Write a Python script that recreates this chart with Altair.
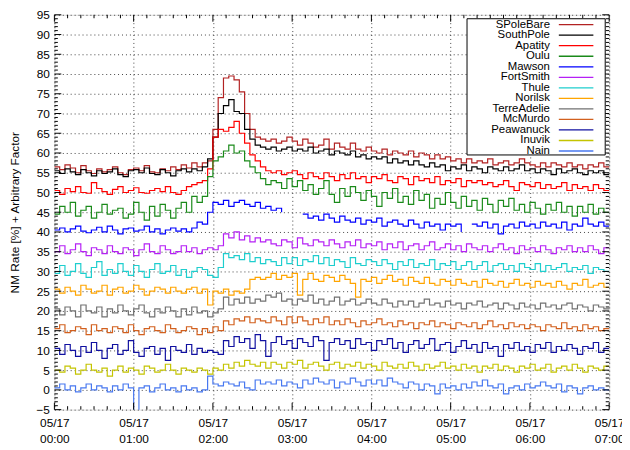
import altair as alt
import pandas as pd

STEP_MIN = 4  # minutes per sample, starting 05/17 00:00

stations = ["SPoleBare", "SouthPole", "Apatity", "Oulu", "Mawson", "FortSmith", "Thule",
            "Norilsk", "TerreAdelie", "McMurdo", "Peawanuck", "Inuvik", "Nain"]
colors = ["#b22222", "#000000", "#ff0000", "#1a8a1a", "#0000ff", "#b520f5", "#1ecece",
          "#ffa500", "#707070", "#d2601e", "#1010a0", "#c4c400", "#4878f0"]

spolebare = [56.5,55.8,57.0,56.2,55.0,56.8,55.5,54.8,56.0,55.2,55.8,56.5,55.0,54.5,55.8,56.2,55.5,56.8,55.2,55.0,56.0,55.5,56.5,55.8,57.0,56.2,57.5,56.5,
             57.5,58.0,66.0,74.0,79.0,79.5,78.5,75.5,70.0,66.0,64.0,63.5,
             63.0,63.5,62.5,63.0,64.0,63.0,62.0,63.5,62.5,61.5,62.0,63.5,61.0,62.5,61.5,61.0,62.5,61.0,60.5,61.5,
             60.5,60.0,61.0,59.5,60.5,60.0,59.5,60.5,59.0,60.0,59.5,58.5,59.5,58.5,59.0,58.0,58.5,57.5,58.5,57.5,
             58.0,57.5,58.5,57.0,57.5,58.0,57.0,57.5,58.5,57.5,57.0,56.5,57.5,56.5,57.5,57.0,56.5,57.5,56.5,57.0,56.0,57.0,56.5,57.5,56.5]
southpole = [55.5,54.8,56.0,55.2,54.5,55.8,55.0,54.2,55.5,54.8,55.2,56.0,54.5,54.0,55.5,55.8,55.0,56.2,54.8,54.5,55.8,55.0,54.2,55.5,56.0,55.2,56.0,55.5,
             56.5,58.5,64.0,70.0,72.0,73.5,70.5,70.0,66.0,63.5,62.0,61.5,
             61.0,61.5,60.5,61.0,61.5,60.5,61.0,60.5,61.5,60.0,60.5,61.0,59.5,60.5,60.0,59.5,60.5,59.0,59.5,58.5,
             59.0,58.5,59.0,57.5,58.5,57.5,58.0,57.0,58.0,57.0,56.5,57.5,56.5,57.0,55.5,56.5,56.0,57.0,55.5,56.5,
             56.0,55.0,56.5,56.0,55.5,56.5,55.5,56.0,57.0,55.5,56.0,55.0,56.0,55.5,54.5,56.0,55.0,55.5,56.0,55.0,54.5,55.5,55.0,55.5,54.5]
apatity = [50.5,49.5,51.0,50.2,51.5,50.0,49.8,52.5,51.0,50.2,49.5,50.8,51.5,50.0,50.5,51.2,50.0,49.8,50.5,51.0,50.2,51.5,50.0,49.5,50.5,51.5,52.0,52.5,
           53.0,56.0,64.0,66.0,65.5,66.5,68.0,65.0,62.5,59.5,58.0,56.5,
           55.5,55.0,55.5,54.5,55.0,55.5,54.5,53.5,55.0,54.0,53.5,55.0,54.0,53.0,54.5,53.5,55.0,53.5,54.0,52.5,
           54.0,53.5,54.5,53.0,52.5,54.0,53.5,52.0,54.0,53.0,53.5,52.5,54.0,52.0,53.0,52.5,53.5,51.5,53.0,52.5,
           53.0,52.0,52.5,51.5,52.0,53.0,51.5,50.5,52.5,52.0,51.5,52.5,51.0,52.0,51.0,51.5,52.5,50.5,52.0,51.0,51.5,50.5,52.0,51.0,50.5]
oulu = [44.5,46.5,45.0,47.5,44.0,45.5,46.5,43.5,45.0,47.0,44.5,45.5,46.0,43.5,44.5,47.5,45.0,43.0,46.5,44.0,47.0,45.5,43.5,46.0,47.5,45.0,49.0,47.5,
        49.0,54.0,58.0,59.0,60.5,62.0,60.0,60.5,58.0,56.5,55.0,53.5,
        52.0,53.0,52.5,51.0,53.5,
        51.5,53.0,50.5,52.0,49.5,51.0,53.0,49.5,47.5,51.0,49.0,51.5,50.0,48.0,50.5,49.0,46.5,50.0,48.5,51.0,
        47.5,49.0,47.0,50.5,48.0,49.5,46.0,48.5,47.0,50.0,47.5,46.0,49.0,46.5,48.0,45.5,48.5,47.0,45.0,48.0,
        46.5,48.5,45.5,47.0,45.0,47.5,46.0,44.5,47.0,45.5,47.5,45.0,46.5,44.0,46.5,45.0,47.0,44.5,46.0,45.0]
mawson = [40.5,41.0,40.0,40.8,41.5,40.2,39.8,40.5,41.2,40.0,41.5,40.5,39.5,40.8,41.0,40.2,40.5,41.5,40.0,40.8,39.5,40.5,41.0,40.2,40.8,40.0,41.0,42.5,
          42.0,45.0,47.5,47.0,48.0,46.5,47.5,48.0,47.0,46.5,47.5,46.0,46.5,45.5,46.0,45.0,
          None,None,None,
          44.5,43.5,44.0,43.0,44.5,43.5,42.5,44.0,43.0,42.5,43.5,42.0,43.0,42.5,43.5,41.5,42.5,43.0,42.0,41.5,
          43.0,42.0,41.0,42.5,41.5,42.0,40.5,42.0,41.5,42.0,40.0,
          None,
          42.0,41.5,42.5,41.0,42.0,39.5,41.5,42.0,41.0,42.5,41.5,42.0,41.0,42.5,41.5,42.0,41.0,42.5,40.5,42.0,
          41.5,43.5,42.0,41.5,42.5,41.5]
fortsmith = [35.0,36.5,34.5,35.5,37.0,35.0,34.0,36.0,35.5,34.5,36.5,35.0,34.5,36.0,35.5,34.0,35.5,37.0,35.0,34.5,36.5,35.5,34.5,35.0,36.5,35.0,36.0,34.5,
             35.5,36.0,35.5,36.5,39.5,38.5,40.0,38.0,39.0,37.5,38.5,37.5,38.0,37.0,36.5,38.0,37.5,36.0,38.5,37.0,
             36.5,38.0,37.5,36.5,38.0,37.0,36.0,37.5,36.5,38.0,36.0,37.0,36.5,37.5,35.5,37.0,36.0,37.5,35.5,36.5,
             37.0,35.5,36.5,37.5,35.5,36.0,37.0,35.5,36.5,35.0,37.0,36.0,35.5,36.5,35.0,36.0,37.0,35.5,36.0,34.5,
             36.5,35.5,36.0,35.0,36.5,35.5,34.5,36.0,35.5,36.5,35.0,36.0,35.0,36.5,35.5,34.5,36.0]
thule = [29.5,31.5,29.0,30.0,32.0,29.5,28.5,31.0,32.5,29.0,30.5,29.5,32.0,30.0,29.0,31.5,30.0,28.5,30.5,32.0,29.5,30.0,31.5,29.0,30.5,28.5,30.0,31.0,
         30.5,29.0,28.5,31.0,34.5,33.5,34.0,33.0,34.5,32.5,33.5,32.0,33.0,32.5,31.5,33.5,32.0,33.5,31.5,33.0,
         32.5,34.0,32.0,33.5,31.5,33.0,32.5,31.0,33.5,32.0,31.5,33.0,32.5,31.5,33.0,32.0,30.5,32.5,31.5,33.0,
         31.0,32.0,31.5,33.0,30.5,32.0,31.5,32.5,30.5,31.5,32.5,30.5,31.5,32.5,30.0,31.5,32.0,30.5,31.5,30.0,
         32.0,31.0,30.5,32.0,30.0,31.5,30.5,31.0,32.0,30.0,31.0,30.5,31.5,29.5,31.0,30.5,30.0]
norilsk = [25.5,24.5,26.0,25.0,24.0,26.5,25.5,24.5,25.0,26.5,24.0,25.5,26.0,24.5,25.0,26.5,25.5,24.0,25.0,26.0,25.5,24.5,26.0,25.0,24.5,25.5,26.0,24.5,
           25.5,21.5,25.0,24.5,25.5,24.0,25.0,24.5,25.5,28.0,28.5,28.0,28.5,29.5,28.0,29.0,28.5,29.5,24.0,28.0,
           29.5,28.0,27.5,29.0,28.5,27.5,29.0,28.0,27.0,23.5,28.0,27.5,28.5,27.0,28.0,29.0,27.5,28.0,26.5,28.5,
           27.5,27.0,28.5,27.0,26.5,28.0,27.5,26.5,28.0,27.0,26.5,27.5,26.0,28.0,27.0,26.5,27.5,26.0,27.0,28.0,
           26.5,27.0,26.0,27.5,26.5,27.0,26.0,27.5,26.5,25.5,27.0,26.5,28.0,26.0,26.5,27.0,26.0]
terreadelie = [20.5,19.0,21.0,20.0,18.5,21.5,20.0,19.5,21.0,18.5,20.5,19.5,21.5,20.0,19.0,20.5,21.5,19.5,18.5,20.5,19.5,21.0,20.0,18.5,20.5,19.0,21.0,19.5,
               20.0,18.5,19.5,20.5,23.5,21.5,23.0,22.0,23.5,22.0,23.0,22.5,24.0,23.5,24.5,22.5,23.0,21.5,23.0,22.5,
               24.0,22.0,23.0,21.5,22.5,23.5,21.5,22.5,23.0,21.5,22.0,23.0,22.0,21.5,23.0,22.0,21.0,22.5,21.5,22.5,
               21.0,22.0,23.0,21.5,22.0,21.0,22.5,21.5,22.0,20.5,22.0,21.5,22.5,21.0,21.5,22.0,20.5,22.0,21.5,20.5,
               22.0,21.0,21.5,20.5,22.0,21.0,21.5,20.5,21.5,22.0,20.5,21.5,21.0,20.0,21.5,21.0,20.5]
mcmurdo = [15.5,16.5,14.5,15.0,16.0,15.5,14.0,16.5,15.0,15.5,14.5,16.0,15.5,14.5,16.5,15.0,14.0,15.5,16.0,15.0,14.5,16.5,15.5,14.5,15.0,16.0,15.5,14.0,
           15.5,14.5,16.0,15.0,17.5,16.5,18.0,17.5,18.5,17.0,18.0,17.5,17.0,18.5,17.5,16.5,18.5,17.0,18.5,17.5,
           16.5,18.0,17.0,18.5,16.5,17.5,16.5,18.0,17.0,16.0,17.5,16.5,17.0,18.0,16.5,17.0,16.0,17.5,16.5,17.0,
           15.5,17.0,16.5,17.5,16.0,17.0,16.5,15.5,17.0,16.5,16.0,17.0,15.5,16.5,17.5,16.0,16.5,15.5,17.0,16.0,
           16.5,15.5,16.5,16.0,15.0,16.5,16.0,15.5,17.0,15.5,16.0,15.0,16.5,15.5,16.0,15.0,15.5]
peawanuck = [10.5,9.0,11.5,10.0,8.5,11.0,9.5,12.0,10.0,8.0,10.5,11.5,9.0,10.0,12.5,9.5,8.5,10.5,11.0,9.0,10.5,7.5,11.0,10.0,9.5,11.5,9.0,10.5,
             9.5,10.0,9.5,9.0,12.5,11.0,13.5,12.0,13.0,10.5,14.0,12.5,8.5,12.0,13.5,11.5,12.5,10.5,13.0,12.0,
             11.0,13.5,12.5,7.5,12.0,13.0,11.5,12.5,10.5,13.0,11.5,12.0,10.0,12.5,11.5,13.0,10.5,12.0,9.5,11.5,
             12.5,10.5,11.5,13.0,10.0,11.5,12.0,9.5,11.0,12.5,10.5,11.5,9.5,12.0,10.5,11.0,8.5,11.5,10.5,12.0,
             10.0,11.0,9.5,11.5,10.5,12.0,9.5,11.0,10.0,11.5,10.5,9.0,11.0,10.5,12.0,9.5,10.5]
inuvik = [5.0,4.5,6.0,5.5,4.0,5.0,6.5,5.0,4.5,5.5,3.5,5.0,6.0,4.5,5.5,5.0,4.0,6.0,5.5,4.5,5.0,6.5,5.0,4.0,5.5,5.0,4.5,5.5,
          5.0,4.0,5.5,5.0,6.5,5.5,7.0,6.0,7.5,6.5,6.0,7.0,5.5,7.0,6.5,5.5,7.0,6.5,7.5,5.5,
          6.5,7.0,6.0,5.0,6.5,7.0,5.5,6.5,6.0,7.0,5.5,6.5,6.0,5.0,7.0,6.0,5.5,6.5,5.5,7.0,
          6.0,5.0,6.5,5.5,6.0,7.0,5.5,6.0,5.0,6.5,5.5,6.0,4.5,6.0,5.5,6.5,5.0,6.0,5.5,4.5,
          6.0,5.5,6.5,5.0,5.5,6.5,4.5,5.5,6.0,5.0,6.5,5.5,4.5,6.0,5.5,5.0,6.0]
nain = [0.5,1.5,0.0,1.0,-0.5,0.5,1.5,0.0,1.0,0.5,-0.5,1.0,0.0,1.5,0.5,-6.0,0.5,1.0,-0.5,0.5,1.5,0.0,0.5,-0.5,1.0,0.0,0.5,-0.5,
        0.0,3.5,1.5,1.0,2.0,1.5,1.0,2.0,0.5,0.0,2.5,1.5,2.0,1.5,2.5,1.0,2.0,1.5,0.5,2.5,
        1.5,3.0,2.0,1.5,2.5,0.5,2.0,1.5,3.0,2.0,1.0,2.5,1.5,2.5,1.0,3.0,2.0,1.5,0.5,2.0,
        1.5,0.0,1.5,1.0,-1.0,1.5,0.5,1.0,0.0,1.5,0.5,2.0,1.0,2.5,1.0,0.5,1.5,-1.0,0.5,1.0,
        0.0,1.5,0.5,1.0,2.0,1.0,0.5,1.5,-0.5,1.0,0.5,-1.0,0.5,1.0,0.0,0.5,0.0]

series = dict(zip(stations, [spolebare, southpole, apatity, oulu, mawson, fortsmith, thule,
                             norilsk, terreadelie, mcmurdo, peawanuck, inuvik, nain]))

hour_ticks = [0, 60, 120, 180, 240, 300, 360, 420]
minor_x = [m for m in range(0, 421, 10) if m % 60]
major_y = list(range(-5, 96, 5))
minor_y = [v for v in range(-5, 96) if v % 5]

rows = []
for name in stations:
    vals = series[name]
    for i, v in enumerate(vals):
        rows.append({"station": name, "t": i * STEP_MIN, "v": v})
    rows.append({"station": name, "t": len(vals) * STEP_MIN, "v": vals[-1]})
df = pd.DataFrame(rows)

FONT = "Liberation Sans"
Y_TITLE = "NM Rate [%] + Arbitrary Factor"
x_scale = alt.Scale(domain=[0, 420], nice=False, zero=False)
y_scale = alt.Scale(domain=[-5, 95], nice=False, zero=False)
color_scale = alt.Scale(domain=stations, range=colors)

x_axis = alt.Axis(values=hour_ticks, grid=True, ticks=False, domain=False,
                  labelExpr="['05/17', '0' + floor(datum.value/60) + ':00']",
                  labelFontSize=12, labelFont=FONT, labelColor="#000",
                  labelPadding=8, labelLineHeight=16, labelFlush=False,
                  labelOverlap=False, gridDash=[1, 3], gridColor="#444")
y_axis = alt.Axis(values=major_y, grid=True, ticks=False, domain=False,
                  labelFontSize=12, labelFont=FONT, labelColor="#000",
                  labelPadding=5, labelFlush=False, labelOverlap=False,
                  titleFont=FONT, titleFontSize=12, titleFontWeight="normal",
                  titleColor="#000", titlePadding=15,
                  gridDash=[1, 3], gridColor="#444")

lines = alt.Chart(df).mark_line(interpolate="step-after", strokeWidth=1.2, clip=True).encode(
    x=alt.X("t:Q", scale=x_scale, title=None, axis=x_axis),
    y=alt.Y("v:Q", scale=y_scale, title=Y_TITLE, axis=y_axis),
    color=alt.Color("station:N", sort=stations, scale=color_scale, legend=None),
)


def tick_layer(values, orient, length):
    d = pd.DataFrame({"p": values})
    base = alt.Chart(d).mark_rule(color="black", strokeWidth=1)
    if orient in ("left", "right"):
        y = alt.Y("p:Q", scale=y_scale, title=Y_TITLE, axis=y_axis)
        if orient == "left":
            return base.encode(y=y, x=alt.value(0), x2=alt.value(length))
        return base.encode(y=y, x=alt.value("width"),
                           x2=alt.value({"expr": f"width - {length}"}))
    x = alt.X("p:Q", scale=x_scale, title=None, axis=x_axis)
    if orient == "bottom":
        return base.encode(x=x, y=alt.value("height"),
                           y2=alt.value({"expr": f"height - {length}"}))
    return base.encode(x=x, y=alt.value(0), y2=alt.value(length))


ticks = [
    tick_layer(major_y, "left", 7), tick_layer(minor_y, "left", 3.5),
    tick_layer(major_y, "right", 7), tick_layer(minor_y, "right", 3.5),
    tick_layer(hour_ticks, "bottom", 7), tick_layer(minor_x, "bottom", 3.5),
    tick_layer(hour_ticks, "top", 7), tick_layer(minor_x, "top", 3.5),
]

main = alt.layer(lines, *ticks)

# key box in the upper right corner (gnuplot style: right-aligned label, line sample to its right)
key_df = pd.DataFrame({"station": stations})
key_row = alt.Y("station:N", sort=stations, axis=None,
                scale=alt.Scale(type="point", domain=stations, range=[10, 138], padding=0))
key_box = alt.Chart(pd.DataFrame({"k": [0]})).mark_rect(
    fill="white", stroke="black", strokeWidth=1).encode(
    x=alt.value(418), x2=alt.value(558), y=alt.value(4), y2=alt.value(142))
key_lines = alt.Chart(key_df).mark_rule(strokeWidth=1.3).encode(
    y=key_row, x=alt.value(511), x2=alt.value(546),
    color=alt.Color("station:N", sort=stations, scale=color_scale, legend=None))
key_text = alt.Chart(key_df).mark_text(
    align="right", baseline="middle", font=FONT, fontSize=11.5, color="black").encode(
    y=key_row, x=alt.value(502), text="station:N")
key = alt.layer(key_box, key_lines, key_text)

chart = alt.layer(main, key).resolve_scale(y="independent").properties(
    width=562, height=400,
    padding={"left": 47, "top": 4, "right": 13, "bottom": 38},
    autosize="none",
).configure_view(stroke="black", strokeWidth=1).configure(font=FONT)

chart.save("out.html", embed_options={"renderer": "svg", "actions": False})
